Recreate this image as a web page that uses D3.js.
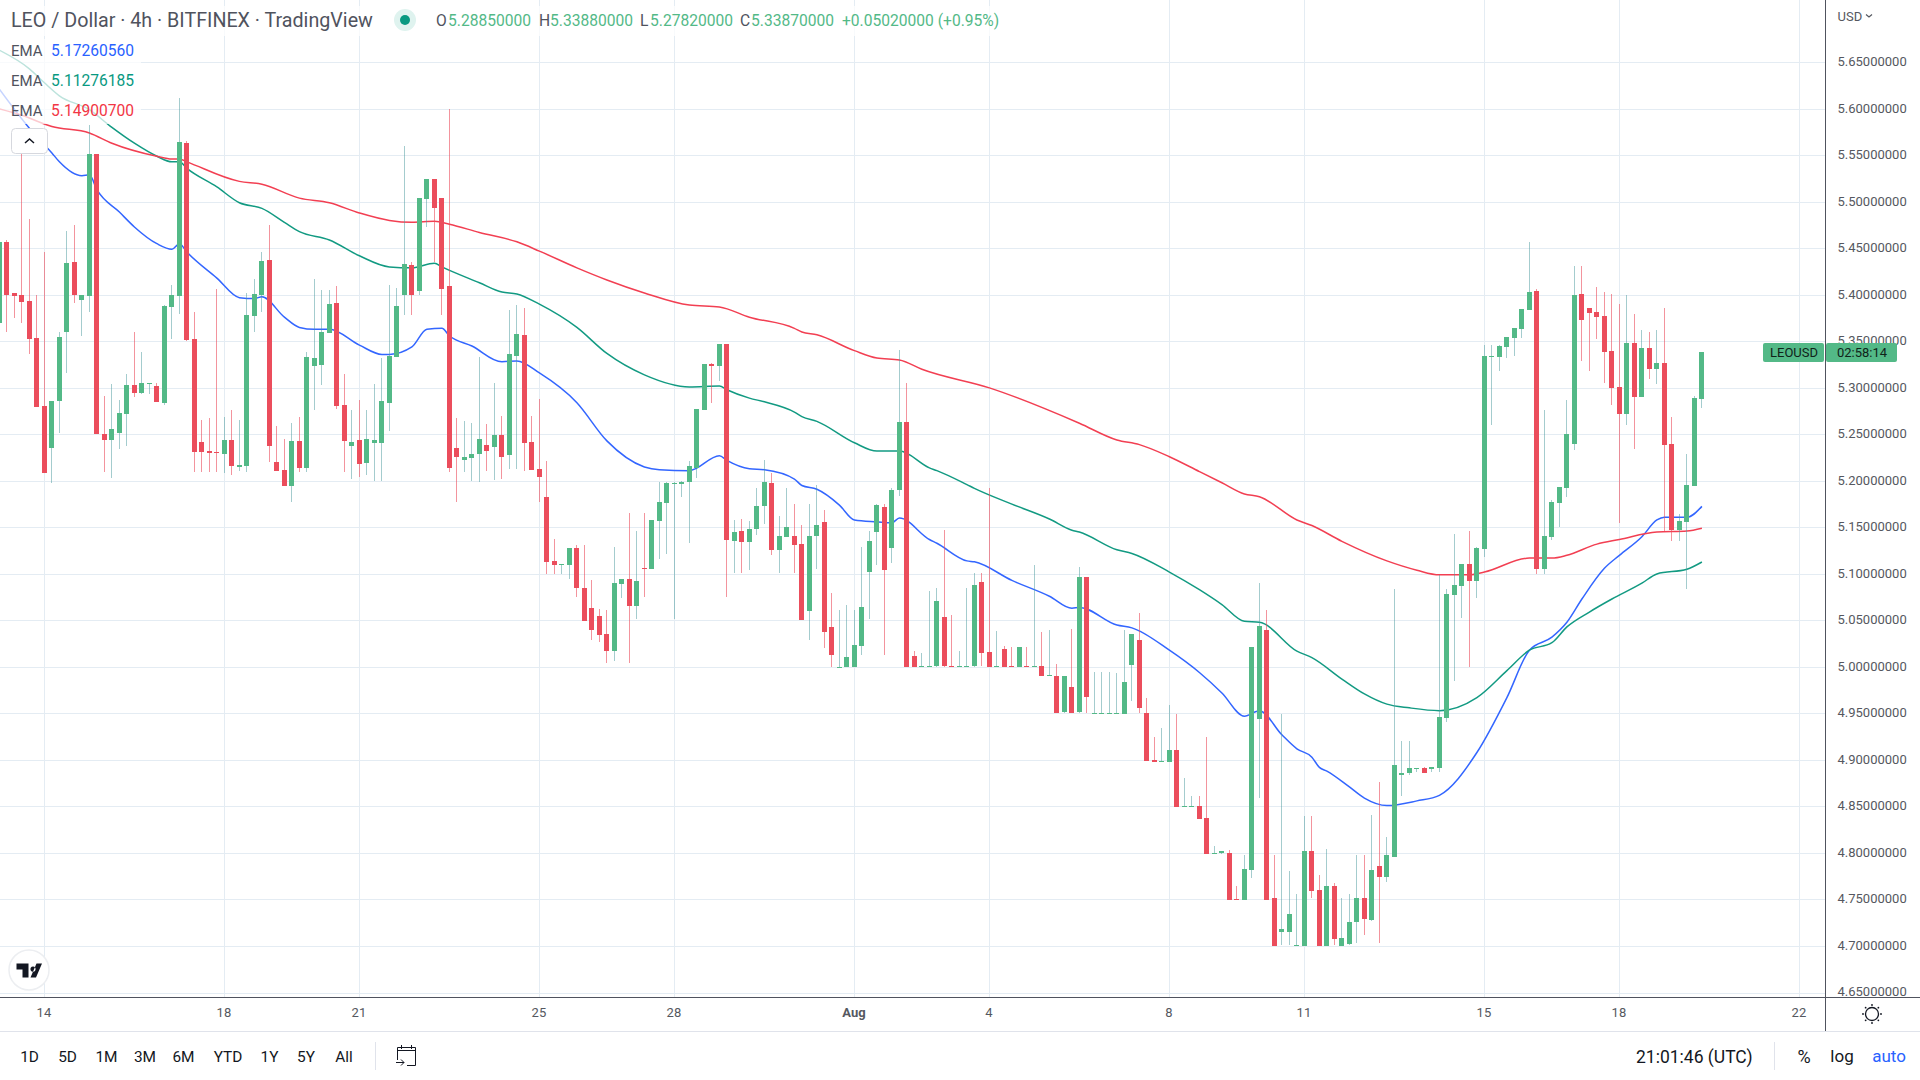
<!DOCTYPE html>
<html>
<head>
<meta charset="utf-8">
<title>LEO / Dollar</title>
<script src="https://cdnjs.cloudflare.com/ajax/libs/d3/7.8.5/d3.min.js"></script>
<style>
  html, body { margin: 0; padding: 0; background: #fff; }
  svg { display: block; font-family: Roboto, sans-serif; }
  .axis path, .axis line { display: none; }
  .axis text { font-family: Roboto, sans-serif; font-size: 13px; fill: #555860; }
</style>
</head>
<body>
<div id="chart"></div>
<script>
// candles run from bar -6 to bar 221, one bar = 4h, bar 0 = 14 Jul 00:00
var firstBar = -6;

var opens = [
  5.370, 5.4568, 5.4017, 5.400, 5.3934, 5.3537, 5.2807, 5.236, 5.2864, 5.3594, 5.435, 5.3945,
  5.399, 5.5514, 5.2506, 5.244, 5.2517, 5.272, 5.303, 5.2946, 5.305, 5.302, 5.284, 5.387,
  5.399, 5.5632, 5.3526, 5.242, 5.2323, 5.2313, 5.2291, 5.2441, 5.2152, 5.2162, 5.3773, 5.3999,
  5.4375, 5.2205, 5.2119, 5.1947, 5.2431, 5.2141, 5.3236, 5.3247, 5.3591, 5.3913, 5.2817, 5.2377,
  5.2441, 5.2195, 5.2409, 5.2409, 5.2839, 5.3333, 5.3999, 5.4321, 5.4042, 5.5031, 5.5246, 5.5041,
  5.4095, 5.2356, 5.2227, 5.2248, 5.2285, 5.2382, 5.236, 5.2489, 5.2274, 5.3338, 5.3563, 5.2414,
  5.2124, 5.1828, 5.1141, 5.1098, 5.1098, 5.128, 5.0851, 5.0636, 5.055, 5.0357, 5.0174, 5.0894,
  5.0947, 5.0657, 5.1066, 5.1055, 5.157, 5.1764, 5.1968, 5.1968, 5.1984, 5.2138, 5.2758, 5.3252,
  5.323, 5.3467, 5.1356, 5.1463, 5.1345, 5.1484, 5.1727, 5.1979, 5.1259, 5.1399, 5.1409, 5.1323,
  5.0604, 5.1409, 5.156, 5.0432, 5.00, 5.00, 5.00, 5.0228, 5.1023, 5.1452, 5.1721, 5.128,
  5.1899, 5.2629, 5.0113, 5.00, 5.00, 5.00, 5.0532, 5.0006, 5.00, 5.00, 5.00, 5.0908,
  5.0156, 5.00, 5.0189, 5.0006, 5.00, 5.0006, 5.00, 5.0006, 4.9898, 4.9898, 4.9519, 4.9788,
  4.9508, 5.0962, 4.95, 4.95, 4.95, 4.95, 4.9498, 5.0017, 5.0285, 4.9508, 4.9004, 4.8982,
  4.8982, 4.9111, 4.85, 4.85, 4.851, 4.8381, 4.7994, 4.7994, 4.8005, 4.7505, 4.75, 4.7822,
  4.9444, 5.04, 4.7511, 4.7146, 4.7146, 4.70, 4.70, 4.8026, 4.7607, 4.70, 4.765, 4.70,
  4.7017, 4.7253, 4.7511, 4.7285, 4.7865, 4.7747, 4.7962, 4.8842, 4.8864, 4.8907, 4.8918, 4.8907,
  4.8918, 4.9455, 5.0777, 5.0873, 5.111, 5.0927, 5.1271, 5.3333, 5.3333, 5.344, 5.3537, 5.3634,
  5.3838, 5.4042, 5.1056, 5.14, 5.1765, 5.1926, 5.2399, 5.401, 5.3859, 5.3816, 5.3773, 5.3397,
  5.3011, 5.2721, 5.3483, 5.2903, 5.343, 5.3204, 5.3268, 5.2399, 5.1475, 5.1561, 5.1947, 5.2885
];

var highs = [
  5.4568, 5.459, 5.4017, 5.563, 5.4817, 5.400, 5.446, 5.286, 5.360, 5.4687, 5.475, 5.400,
  5.5826, 5.5514, 5.2914, 5.304, 5.287, 5.315, 5.36, 5.3387, 5.3054, 5.305, 5.389, 5.4106,
  5.6116, 5.565, 5.3816, 5.2656, 5.2678, 5.4063, 5.2689, 5.2764, 5.2656, 5.402, 5.4171, 5.446,
  5.475, 5.2592, 5.2452, 5.2624, 5.2689, 5.3387, 5.4171, 5.4053, 5.4053, 5.4095, 5.315, 5.2764,
  5.2871, 5.2764, 5.3043, 5.3322, 5.4106, 5.4074, 5.56, 5.4353, 5.5041, 5.5246, 5.5246, 5.5041,
  5.60, 5.2678, 5.2646, 5.2624, 5.3327, 5.2607, 5.3048, 5.2693, 5.3832, 5.3896, 5.3864, 5.2693,
  5.2876, 5.221, 5.1377, 5.1109, 5.128, 5.1313, 5.1313, 5.0937, 5.0625, 5.0614, 5.1291, 5.0947,
  5.1656, 5.1463, 5.1656, 5.1581, 5.1989, 5.1989, 5.199, 5.20, 5.221, 5.2768, 5.326, 5.3263,
  5.3467, 5.3467, 5.1581, 5.1592, 5.157, 5.1925, 5.2221, 5.2088, 5.1624, 5.1925, 5.1753, 5.1527,
  5.1753, 5.1957, 5.1689, 5.0797, 5.0614, 5.0668, 5.0614, 5.1291, 5.1463, 5.1753, 5.1753, 5.1925,
  5.3402, 5.3048, 5.0167, 5.0146, 5.0811, 5.0844, 5.1467, 5.0554, 5.0167, 5.0844, 5.1015, 5.1005,
  5.1928, 5.0382, 5.0221, 5.021, 5.021, 5.021, 5.1101, 5.0371, 5.0392, 5.0027, 4.9906, 5.0411,
  5.1069, 5.0962, 4.9949, 4.9949, 4.9949, 4.9938, 5.0392, 5.035, 5.0575, 4.9662, 4.925, 4.9347,
  4.9594, 4.9498, 4.881, 4.8617, 4.8617, 4.9251, 4.808, 4.8016, 4.8037, 4.765, 4.7983, 5.0217,
  5.0905, 5.0615, 4.7983, 4.9498, 4.7811, 4.7564, 4.8402, 4.8402, 4.7768, 4.8048, 4.7672, 4.7521,
  4.7564, 4.7983, 4.7983, 4.8413, 4.8767, 4.8177, 5.084, 4.9208, 4.9208, 4.8918, 4.8928, 4.8928,
  5.099, 5.084, 5.1432, 5.111, 5.1464, 5.1293, 5.3462, 5.3462, 5.3462, 5.3548, 5.3644, 5.3848,
  5.4568, 5.4063, 5.2764, 5.1797, 5.1937, 5.2871, 5.431, 5.431, 5.3859, 5.4085, 5.4031, 5.401,
  5.3902, 5.3999, 5.3795, 5.3623, 5.3601, 5.3623, 5.3859, 5.2689, 5.1647, 5.2291, 5.2914, 5.3388
];

var lows = [
  5.370, 5.3605, 5.3755, 5.370, 5.336, 5.280, 5.209, 5.198, 5.251, 5.3165, 5.3916, 5.356,
  5.382, 5.25, 5.2098, 5.2026, 5.2345, 5.2377, 5.2907, 5.2936, 5.2936, 5.285, 5.282, 5.3526,
  5.3795, 5.35, 5.2098, 5.2098, 5.2098, 5.2098, 5.2087, 5.2066, 5.2109, 5.2098, 5.3601, 5.3816,
  5.2205, 5.2109, 5.1947, 5.177, 5.2098, 5.2098, 5.2764, 5.3032, 5.3591, 5.2774, 5.2098, 5.2023,
  5.2044, 5.2066, 5.2001, 5.2001, 5.2538, 5.3333, 5.3784, 5.3784, 5.3999, 5.4733, 5.4353, 5.3784,
  5.2098, 5.177, 5.2098, 5.2001, 5.1984, 5.2103, 5.2006, 5.2017, 5.2124, 5.2124, 5.2103, 5.2113,
  5.177, 5.1001, 5.1001, 5.1001, 5.0947, 5.0754, 5.0496, 5.0292, 5.0271, 5.0045, 5.0067, 5.0743,
  5.0045, 5.0518, 5.0754, 5.1055, 5.1162, 5.1216, 5.0518, 5.1828, 5.133, 5.2027, 5.2758, 5.2833,
  5.3069, 5.0754, 5.1012, 5.1012, 5.1044, 5.142, 5.1538, 5.1205, 5.1012, 5.1399, 5.1012, 5.0507,
  5.0292, 5.1055, 5.0207, 5.0002, 5.00, 5.00, 5.00, 5.0131, 5.0518, 5.1098, 5.0131, 5.1119,
  5.1835, 5.00, 5.00, 5.00, 5.00, 5.00, 5.00, 5.00, 5.00, 5.00, 5.00, 5.0006,
  5.00, 5.00, 5.00, 5.00, 5.00, 5.00, 5.00, 4.9898, 4.9898, 4.95, 4.9508, 4.9508,
  4.9508, 4.9508, 4.95, 4.95, 4.95, 4.95, 4.9498, 4.963, 4.9508, 4.8993, 4.8982, 4.8982,
  4.8982, 4.85, 4.85, 4.85, 4.837, 4.7994, 4.7994, 4.7994, 4.75, 4.75, 4.75, 4.7726,
  4.8595, 4.75, 4.70, 4.7006, 4.7006, 4.70, 4.70, 4.7511, 4.70, 4.70, 4.7006, 4.70,
  4.7006, 4.7027, 4.7113, 4.7274, 4.7027, 4.7683, 4.7962, 4.8617, 4.8842, 4.8875, 4.8864, 4.8875,
  4.8875, 4.9412, 4.9852, 5.0529, 4.9995, 5.0743, 5.1185, 5.2603, 5.3183, 5.3322, 5.3344, 5.3537,
  5.3838, 5.1002, 5.1002, 5.1368, 5.1507, 5.1829, 5.2334, 5.329, 5.3183, 5.3526, 5.3054, 5.2817,
  5.155, 5.2603, 5.2345, 5.2903, 5.3097, 5.3043, 5.1464, 5.1357, 5.1357, 5.0841, 5.1947, 5.2782
];

var closes = [
  5.4568, 5.400, 5.399, 5.392, 5.353, 5.280, 5.209, 5.286, 5.3548, 5.434, 5.399, 5.400,
  5.5514, 5.25, 5.244, 5.256, 5.273, 5.303, 5.2946, 5.3054, 5.3054, 5.285, 5.388, 5.40,
  5.5643, 5.3516, 5.2313, 5.2313, 5.2302, 5.2306, 5.2441, 5.2162, 5.2173, 5.3784, 5.401, 5.4364,
  5.2377, 5.2109, 5.1947, 5.2431, 5.2141, 5.3333, 5.3322, 5.3601, 5.3902, 5.2807, 5.2431, 5.242,
  5.2184, 5.2452, 5.2441, 5.286, 5.3344, 5.388, 5.4332, 5.3999, 5.5041, 5.5246, 5.4933, 5.4063,
  5.2141, 5.2259, 5.2259, 5.2291, 5.2446, 5.2317, 5.2489, 5.2253, 5.3359, 5.3574, 5.2403, 5.2113,
  5.2038, 5.113, 5.1098, 5.1109, 5.128, 5.0851, 5.0496, 5.04, 5.0346, 5.0174, 5.0905, 5.0947,
  5.0657, 5.0926, 5.1055, 5.1581, 5.1774, 5.1979, 5.1979, 5.1989, 5.2156, 5.2768, 5.3252, 5.323,
  5.3467, 5.1356, 5.1452, 5.1345, 5.1484, 5.1732, 5.1984, 5.1259, 5.1409, 5.1506, 5.1313, 5.0507,
  5.1409, 5.1527, 5.0378, 5.0131, 5.0002, 5.011, 5.0239, 5.0647, 5.1356, 5.1742, 5.1044, 5.1903,
  5.2629, 5.00, 5.00, 5.0006, 5.0006, 5.0704, 5.00, 5.00, 5.0006, 5.0006, 5.0876, 5.0146,
  5.00, 5.0006, 5.00, 5.00, 5.021, 5.00, 5.0006, 4.9898, 4.9909, 4.95, 4.9906, 4.9508,
  5.0962, 4.967, 4.9506, 4.9506, 4.9506, 4.9506, 4.9841, 5.035, 4.9555, 4.8993, 4.8982, 4.8993,
  4.9111, 4.85, 4.8506, 4.8506, 4.837, 4.7994, 4.80, 4.8016, 4.75, 4.75, 4.7833, 5.0217,
  5.0443, 4.75, 4.70, 4.7178, 4.7339, 4.7006, 4.8026, 4.7597, 4.70, 4.765, 4.7081, 4.7081,
  4.7253, 4.7511, 4.7285, 4.7822, 4.7747, 4.7983, 4.895, 4.8864, 4.8918, 4.8918, 4.8864, 4.8928,
  4.9465, 5.0786, 5.0884, 5.111, 5.0927, 5.1282, 5.3344, 5.3344, 5.3451, 5.3548, 5.3644, 5.3848,
  5.4031, 5.1056, 5.1411, 5.1776, 5.1937, 5.2506, 5.3999, 5.373, 5.3805, 5.3763, 5.3387, 5.30,
  5.2721, 5.3483, 5.2903, 5.343, 5.3204, 5.3268, 5.2388, 5.1475, 5.1572, 5.1958, 5.2893, 5.3387
];

// EMA lines at their visible bends
var blueBars = [-6, -2, 1, 2, 5, 6, 7, 10, 12, 15, 17, 18, 19, 23, 26, 28, 29, 32, 34, 36, 38, 42, 45, 46, 49, 51, 53, 54, 57, 61, 63, 66, 71, 75, 80, 82, 86, 90, 91, 94, 96, 100, 101, 103, 106, 108, 111, 113, 114, 118, 119, 123, 124, 129, 134, 137, 138, 143, 145, 150, 154, 157, 160, 162, 165, 167, 169, 170, 171, 174, 176, 179, 183, 186, 191, 195, 198, 201, 203, 205, 208, 210, 213, 215, 216, 219, 221];
var blueValues = [5.621, 5.579, 5.5525, 5.543, 5.528, 5.529, 5.513, 5.489, 5.473, 5.455, 5.449, 5.455, 5.446, 5.418, 5.397, 5.396, 5.398, 5.376, 5.365, 5.363, 5.363, 5.346, 5.336, 5.336, 5.344, 5.363, 5.364, 5.356, 5.345, 5.328, 5.329, 5.316, 5.284, 5.243, 5.215, 5.212, 5.211, 5.227, 5.222, 5.213, 5.212, 5.202, 5.195, 5.191, 5.174, 5.158, 5.156, 5.155, 5.160, 5.137, 5.133, 5.114, 5.113, 5.093, 5.076, 5.063, 5.064, 5.045, 5.042, 5.018, 4.994, 4.972, 4.947, 4.953, 4.927, 4.912, 4.903, 4.892, 4.888, 4.871, 4.859, 4.851, 4.856, 4.862, 4.908, 4.967, 5.018, 5.032, 5.048, 5.073, 5.106, 5.120, 5.140, 5.158, 5.161, 5.161, 5.1726];

var greenBars = [-6, -2, 0, 2, 6, 9, 12, 15, 17, 18, 19, 23, 26, 29, 32, 34, 38, 42, 46, 49, 52, 53, 58, 61, 63, 66, 71, 75, 80, 86, 90, 91, 94, 96, 100, 101, 103, 108, 111, 114, 118, 119, 123, 124, 129, 134, 137, 138, 143, 145, 150, 154, 157, 160, 162, 167, 169, 173, 176, 179, 182, 186, 191, 195, 198, 201, 203, 206, 209, 213, 215, 219, 221];
var greenValues = [5.663, 5.643, 5.628, 5.614, 5.599, 5.580, 5.563, 5.549, 5.543, 5.543, 5.536, 5.516, 5.499, 5.493, 5.478, 5.468, 5.459, 5.442, 5.430, 5.429, 5.434, 5.430, 5.413, 5.403, 5.401, 5.390, 5.365, 5.337, 5.314, 5.301, 5.302, 5.298, 5.289, 5.285, 5.274, 5.269, 5.264, 5.241, 5.232, 5.232, 5.214, 5.211, 5.196, 5.192, 5.175, 5.159, 5.147, 5.145, 5.126, 5.122, 5.102, 5.083, 5.067, 5.049, 5.048, 5.017, 5.010, 4.987, 4.971, 4.960, 4.956, 4.953, 4.967, 4.996, 5.018, 5.026, 5.043, 5.059, 5.073, 5.090, 5.100, 5.105, 5.1128];

var redBars = [-6, -3, 1, 6, 9, 15, 17, 18, 19, 26, 29, 34, 38, 42, 46, 49, 52, 54, 58, 63, 66, 71, 75, 80, 86, 90, 94, 100, 101, 103, 108, 111, 114, 117, 126, 138, 143, 146, 150, 154, 157, 160, 162, 167, 169, 173, 179, 183, 186, 190, 192, 198, 201, 203, 207, 210, 215, 219, 221];
var redValues = [5.600, 5.593, 5.581, 5.574, 5.563, 5.549, 5.546, 5.546, 5.543, 5.522, 5.519, 5.504, 5.499, 5.488, 5.480, 5.478, 5.479, 5.476, 5.467, 5.457, 5.447, 5.429, 5.416, 5.402, 5.389, 5.387, 5.376, 5.364, 5.360, 5.357, 5.340, 5.332, 5.330, 5.320, 5.300, 5.262, 5.244, 5.239, 5.226, 5.210, 5.198, 5.186, 5.183, 5.158, 5.152, 5.135, 5.114, 5.104, 5.099, 5.099, 5.102, 5.117, 5.117, 5.120, 5.132, 5.137, 5.145, 5.146, 5.149];

var priceTicks = [5.65, 5.60, 5.55, 5.50, 5.45, 5.40, 5.35, 5.30, 5.25, 5.20, 5.15, 5.10, 5.05, 5.00, 4.95, 4.90, 4.85, 4.80, 4.75, 4.70, 4.65];
var timeTicks = [0, 24, 42, 66, 84, 108, 126, 150, 168, 192, 210, 234];
var timeLabels = ["14", "18", "21", "25", "28", "Aug", "4", "8", "11", "15", "18", "22"];
var rangeButtons = ["1D", "5D", "1M", "3M", "6M", "YTD", "1Y", "5Y", "All"];
var rangeButtonX = [29.5, 67.5, 106.5, 145, 183.5, 228, 269.5, 306, 344];

var upColor = "#53b987", downColor = "#eb4d5c";
var blue = "#2962ff", teal = "#089981", red = "#f23645";

var width = 1920, height = 1080,
    plotRight = 1825.5, plotBottom = 997.5, panelBottom = 1031.5;

var svg = d3.select("#chart").append("svg")
    .attr("width", width)
    .attr("height", height);

svg.append("rect").attr("width", width).attr("height", height).attr("fill", "#fff");

var x = d3.scaleLinear().domain([0, 234]).range([44.4, 1799.4]),
    y = d3.scaleLinear().domain([4.65, 5.65]).range([992.5, 62.3]);

var clip = svg.append("clipPath").attr("id", "plot")
  .append("rect").attr("width", plotRight).attr("height", plotBottom);

// grid
var grid = svg.append("g").attr("shape-rendering", "crispEdges").attr("stroke", "#e4ecf3");

grid.selectAll(".h")
    .data(priceTicks)
  .enter().append("line")
    .attr("x1", 0)
    .attr("x2", plotRight)
    .attr("y1", function(d) { return Math.round(y(d)) + 0.5; })
    .attr("y2", function(d) { return Math.round(y(d)) + 0.5; });

grid.selectAll(".v")
    .data(timeTicks)
  .enter().append("line")
    .attr("y1", 0)
    .attr("y2", plotBottom)
    .attr("x1", function(d) { return Math.round(x(d)) + 0.5; })
    .attr("x2", function(d) { return Math.round(x(d)) + 0.5; });

var plot = svg.append("g").attr("clip-path", "url(#plot)");

// EMA lines sit under the candles
var line = d3.line()
    .curve(d3.curveMonotoneX)
    .x(function(d) { return x(d[0]); })
    .y(function(d) { return y(d[1]); });

[[blueBars, blueValues, "#3366ff"], [greenBars, greenValues, "#129a82"], [redBars, redValues, "#f23f52"]].forEach(function(s) {
  plot.append("path")
      .datum(d3.zip(s[0], s[1]))
      .attr("fill", "none")
      .attr("stroke", s[2])
      .attr("stroke-width", 1.5)
      .attr("d", line);
});

// candles
var bars = d3.range(opens.length).map(function(i) {
  return {
    bar: firstBar + i,
    open: opens[i],
    high: highs[i],
    low: lows[i],
    close: closes[i],
    up: closes[i] >= opens[i]
  };
});

var candleLeft = function(d) { return Math.round(x(d.bar) - 2.5); };

plot.append("g").attr("shape-rendering", "crispEdges").selectAll(".wick")
    .data(bars)
  .enter().append("rect")
    .attr("class", "wick")
    .attr("x", function(d) { return candleLeft(d) + 2; })
    .attr("width", 1)
    .attr("y", function(d) { return y(d.high); })
    .attr("height", function(d) { return y(d.low) - y(d.high); })
    .attr("fill", function(d) { return d.up ? "#4a9a9e" : downColor; })
    .attr("fill-opacity", function(d) { return d.up ? 0.5 : 0.6; });

plot.append("g").attr("shape-rendering", "crispEdges").selectAll(".body")
    .data(bars)
  .enter().append("rect")
    .attr("class", "body")
    .attr("x", candleLeft)
    .attr("width", 5)
    .attr("y", function(d) { return Math.round(y(Math.max(d.open, d.close))); })
    .attr("height", function(d) { return Math.max(1, Math.round(Math.abs(y(d.open) - y(d.close)))); })
    .attr("fill", function(d) { return d.up ? upColor : downColor; });

// axes
var priceAxis = d3.axisRight(y)
    .tickValues(priceTicks)
    .tickSize(0)
    .tickPadding(12)
    .tickFormat(d3.format(".8f"));

svg.append("g")
    .attr("class", "axis")
    .attr("transform", "translate(" + plotRight + ",-0.7)")
    .call(priceAxis);

var timeAxis = d3.axisBottom(x)
    .tickValues(timeTicks)
    .tickSize(0)
    .tickPadding(10)
    .tickFormat(function(d, i) { return timeLabels[i]; });

svg.append("g")
    .attr("class", "axis")
    .attr("transform", "translate(-1," + (plotBottom + 0.5) + ")")
    .call(timeAxis)
  .selectAll("text")
    .style("font-weight", function(d, i) { return timeLabels[i] === "Aug" ? "bold" : null; });

svg.append("line").attr("x1", 0).attr("x2", width).attr("y1", plotBottom).attr("y2", plotBottom)
    .attr("stroke", "#50535e");
svg.append("line").attr("x1", plotRight).attr("x2", plotRight).attr("y1", 0).attr("y2", panelBottom)
    .attr("stroke", "#50535e");
svg.append("line").attr("x1", 0).attr("x2", width).attr("y1", panelBottom).attr("y2", panelBottom)
    .attr("stroke", "#e0e3eb");

// last price tag
var lastY = Math.round(y(closes[closes.length - 1]));
var tag = svg.append("g");
tag.append("rect").attr("x", 1763).attr("y", lastY - 9).attr("width", 61).attr("height", 19).attr("rx", 2).attr("fill", upColor);
tag.append("rect").attr("x", 1826).attr("y", lastY - 9).attr("width", 71).attr("height", 19).attr("rx", 2).attr("fill", upColor);
tag.append("text").attr("x", 1770).attr("y", lastY + 5).attr("font-size", 13).attr("fill", "#10231a").text("LEOUSD");
tag.append("text").attr("x", 1837).attr("y", lastY + 5).attr("font-size", 13).attr("fill", "#10231a").text("02:58:14");

// legend, on a see-through white backing
svg.append("rect").attr("x", 0).attr("y", 6).attr("width", 1006).attr("height", 30).attr("fill", "#fff").attr("fill-opacity", 0.72);
svg.append("rect").attr("x", 0).attr("y", 39).attr("width", 141).attr("height", 85).attr("fill", "#fff").attr("fill-opacity", 0.72);

svg.append("text").attr("x", 11).attr("y", 27).attr("font-size", 19.7).attr("fill", "#50535e")
    .text("LEO / Dollar · 4h · BITFINEX · TradingView");

svg.append("circle").attr("cx", 405).attr("cy", 20).attr("r", 11).attr("fill", "#dff3ef");
svg.append("circle").attr("cx", 405).attr("cy", 20).attr("r", 5).attr("fill", teal);

var ohlcLabels = ["O", "H", "L", "C"],
    ohlcValues = ["5.28850000", "5.33880000", "5.27820000", "5.33870000"],
    ohlcLabelX = [436, 539, 640, 740],
    ohlcValueX = [448, 550, 650, 751];

ohlcLabels.forEach(function(d, i) {
  svg.append("text").attr("x", ohlcLabelX[i]).attr("y", 26).attr("font-size", 15.6).attr("fill", "#50535e").text(d);
  svg.append("text").attr("x", ohlcValueX[i]).attr("y", 26).attr("font-size", 15.6).attr("fill", upColor).text(ohlcValues[i]);
});
svg.append("text").attr("x", 842).attr("y", 26).attr("font-size", 15.6).attr("fill", upColor).text("+0.05020000 (+0.95%)");

var emaLabels = ["5.17260560", "5.11276185", "5.14900700"],
    emaColors = [blue, teal, red],
    emaRowY = [55.5, 85.5, 115.5];

emaLabels.forEach(function(d, i) {
  svg.append("text").attr("x", 11).attr("y", emaRowY[i]).attr("font-size", 15).attr("fill", "#50535e").text("EMA");
  svg.append("text").attr("x", 51).attr("y", emaRowY[i]).attr("font-size", 15.6).attr("fill", emaColors[i]).text(d);
});

// collapse button
svg.append("rect").attr("x", 11.5).attr("y", 128.5).attr("width", 36).attr("height", 25).attr("rx", 4)
    .attr("fill", "#fff").attr("stroke", "#d6d8de");
svg.append("path").attr("d", "M25 143 L29.5 139 L34 143").attr("fill", "none").attr("stroke", "#131722").attr("stroke-width", 1.5);

// TV badge
svg.append("circle").attr("cx", 29).attr("cy", 970).attr("r", 20).attr("fill", "#fff").attr("stroke", "#eceef1").attr("stroke-width", 1.5);
svg.append("path").attr("fill", "#131722")
    .attr("d", "M16.5 963.5 H28.5 V977.5 H22.5 V969.5 H16.5 Z M33 966.5 a2.6 2.6 0 1 0 0.01 0 Z M36.5 963.5 H42 L36 977.5 H30.5 Z");

// bottom toolbar
svg.selectAll(".range")
    .data(rangeButtons)
  .enter().append("text")
    .attr("class", "range")
    .attr("x", function(d, i) { return rangeButtonX[i]; })
    .attr("y", 1062)
    .attr("text-anchor", "middle")
    .attr("font-size", 15.4)
    .attr("fill", "#131722")
    .text(function(d) { return d; });

svg.append("line").attr("x1", 375.5).attr("x2", 375.5).attr("y1", 1042).attr("y2", 1070).attr("stroke", "#e0e3eb");
svg.append("path").attr("fill", "none").attr("stroke", "#131722")
    .attr("d", "M397.5 1050.5 H415.5 V1065.5 H407 M397.5 1060 V1050.5 M397.5 1053.5 V1047.5 H415.5 V1053.5 M401.5 1045 V1049 M411.5 1045 V1049 M396 1062.5 H404 M401 1059.5 L404 1062.5 L401 1065.5");

svg.append("text").attr("x", 1636).attr("y", 1062.5).attr("font-size", 17.5).attr("fill", "#131722").text("21:01:46 (UTC)");
svg.append("line").attr("x1", 1774.5).attr("x2", 1774.5).attr("y1", 1042).attr("y2", 1070).attr("stroke", "#e0e3eb");
svg.append("text").attr("x", 1804).attr("y", 1063).attr("text-anchor", "middle").attr("font-size", 18).attr("fill", "#131722").text("%");
svg.append("text").attr("x", 1842).attr("y", 1062).attr("text-anchor", "middle").attr("font-size", 17).attr("fill", "#131722").text("log");
svg.append("text").attr("x", 1889).attr("y", 1062).attr("text-anchor", "middle").attr("font-size", 17).attr("fill", blue).text("auto");

// settings icon and currency label
svg.append("circle").attr("cx", 1872).attr("cy", 1014).attr("r", 6.5).attr("fill", "none").attr("stroke", "#131722").attr("stroke-width", 1.3);
d3.range(8).forEach(function(k) {
  var a = k * Math.PI / 4;
  svg.append("circle").attr("cx", 1872 + 9 * Math.cos(a)).attr("cy", 1014 + 9 * Math.sin(a)).attr("r", 0.9).attr("fill", "#131722");
});

svg.append("text").attr("x", 1837.5).attr("y", 21).attr("font-size", 13).attr("fill", "#555860").text("USD");
svg.append("path").attr("d", "M1866 14.5 L1869 17 L1872 14.5").attr("fill", "none").attr("stroke", "#555860").attr("stroke-width", 1.2);
</script>
</body>
</html>
